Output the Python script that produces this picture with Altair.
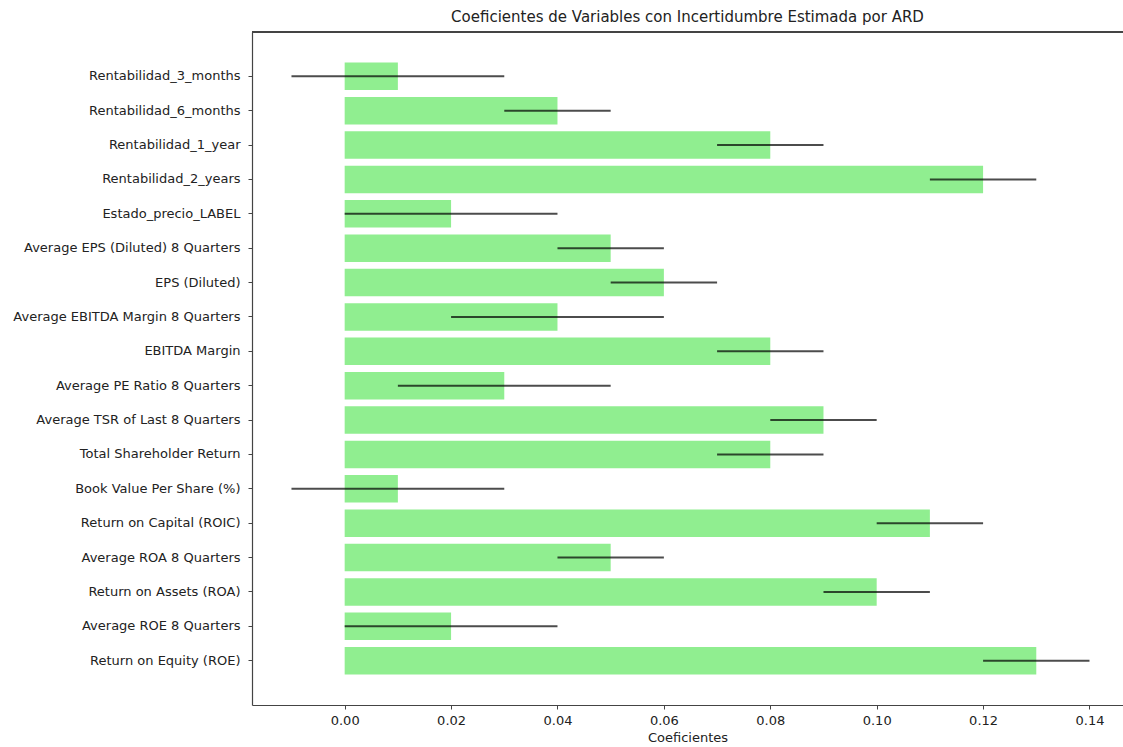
import altair as alt
import pandas as pd

variables = [
    "Rentabilidad_3_months",
    "Rentabilidad_6_months",
    "Rentabilidad_1_year",
    "Rentabilidad_2_years",
    "Estado_precio_LABEL",
    "Average EPS (Diluted) 8 Quarters",
    "EPS (Diluted)",
    "Average EBITDA Margin 8 Quarters",
    "EBITDA Margin",
    "Average PE Ratio 8 Quarters",
    "Average TSR of Last 8 Quarters",
    "Total Shareholder Return",
    "Book Value Per Share (%)",
    "Return on Capital (ROIC)",
    "Average ROA 8 Quarters",
    "Return on Assets (ROA)",
    "Average ROE 8 Quarters",
    "Return on Equity (ROE)",
]
coefs = [0.01, 0.04, 0.08, 0.12, 0.02, 0.05, 0.06, 0.04, 0.08, 0.03,
         0.09, 0.08, 0.01, 0.11, 0.05, 0.10, 0.02, 0.13]
errors = [0.02, 0.01, 0.01, 0.01, 0.02, 0.01, 0.01, 0.02, 0.01, 0.02,
          0.01, 0.01, 0.02, 0.01, 0.01, 0.01, 0.02, 0.01]
x_ticks = [0.0, 0.02, 0.04, 0.06, 0.08, 0.10, 0.12, 0.14]

df = pd.DataFrame({"Variable": variables, "Coef": coefs, "Err": errors})
df["lo"] = df["Coef"] - df["Err"]
df["hi"] = df["Coef"] + df["Err"]
df["zero"] = 0.0

FONT = "DejaVu Sans"

xscale = alt.Scale(domain=[-0.01742, 0.1463], nice=False, zero=False)
yscale = alt.Scale(paddingInner=0.2, paddingOuter=0.89)

base = alt.Chart(df)

bars = base.mark_bar(color="#90EE90").encode(
    x=alt.X("zero:Q", scale=xscale,
            axis=alt.Axis(title="Coeficientes", values=x_ticks, format=".2f",
                          grid=False, tickSize=4, labelPadding=5,
                          titlePadding=4, domainColor="#444", tickColor="#444",
                          domainWidth=1.2)),
    x2="Coef:Q",
    y=alt.Y("Variable:N", sort=variables, scale=yscale,
            axis=alt.Axis(title=None, tickSize=4, labelPadding=8,
                          domainColor="#444", tickColor="#444",
                          domainWidth=1.2, labelLimit=400)),
)

errs = base.mark_rule(color="black", opacity=0.7, strokeWidth=2).encode(
    x=alt.X("lo:Q", scale=xscale),
    x2="hi:Q",
    y=alt.Y("Variable:N", sort=variables, scale=yscale),
)

top_line = base.mark_rule(color="#444", strokeWidth=1.2).encode(
    x=alt.value(0), x2=alt.value(871), y=alt.value(0)
)

chart = alt.layer(bars, errs, top_line).properties(
    width=871,
    height=673,
    background="white",
    title=alt.TitleParams(
        "Coeficientes de Variables con Incertidumbre Estimada por ARD",
        fontSize=15, font=FONT, fontWeight="normal", color="#222",
        anchor="middle", offset=6,
    ),
    autosize=alt.AutoSizeParams(type="none"),
    padding={"left": 252, "top": 32, "right": 0, "bottom": 42},
).configure_view(stroke=None).configure_axis(
    labelFont=FONT, titleFont=FONT, labelFontSize=13, titleFontSize=13,
    labelColor="#222", titleColor="#222", titleFontWeight="normal",
)

chart.save("out.html", embed_options={"renderer": "svg", "actions": False})
